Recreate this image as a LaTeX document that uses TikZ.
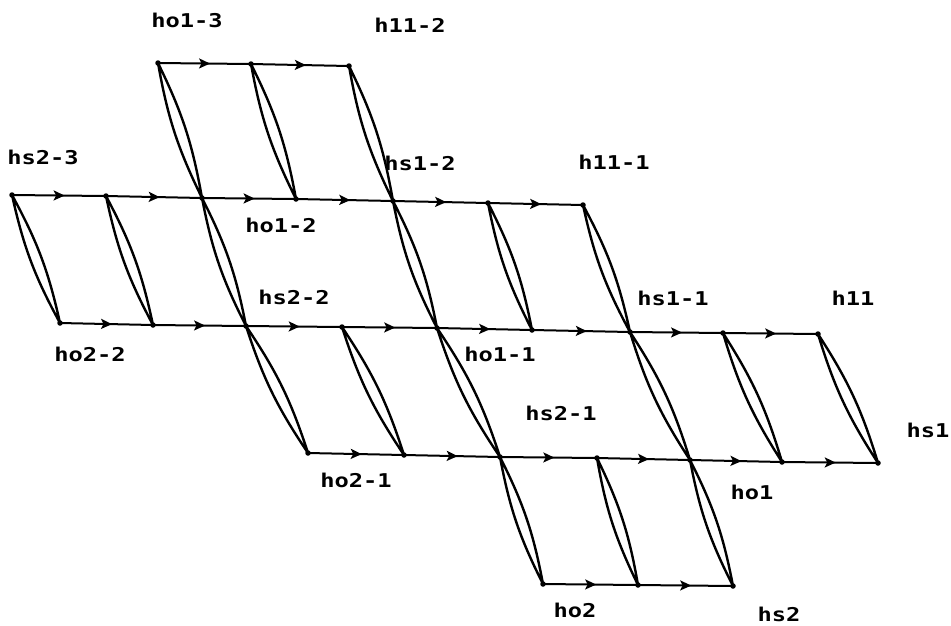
\documentclass[tikz,border=0pt]{standalone}
\usepackage{fontspec}
\newfontfamily\lblfont[FakeStretch=1.25]{DejaVu Sans Mono}
\usetikzlibrary{arrows.meta,decorations.markings}
\tikzset{
  pt/.style={circle,fill=black,inner sep=0pt,minimum size=5.5pt},
  lbl/.style={font=\lblfont\bfseries\fontsize{19}{21}\selectfont,inner sep=0pt},
  lens/.style={line width=2.4pt},
  flow/.style={line width=2pt,postaction={decorate},
    decoration={markings,mark=at position 0.56 with {\arrow{Stealth[length=11pt,width=10pt,inset=2.5pt]}}}}
}
\begin{document}
\begin{tikzpicture}[x=1pt,y=-1pt]
\useasboundingbox (0,0) rectangle (951,625);
% level 0
\node[pt] (a0) at (158,63) {};
\node[pt] (a1) at (251,64) {};
\node[pt] (a2) at (349,66) {};
% level 1
\node[pt] (b0) at (12,195) {};
\node[pt] (b1) at (106,196) {};
\node[pt] (b2) at (202,198) {};
\node[pt] (b3) at (296,199) {};
\node[pt] (b4) at (393,201) {};
\node[pt] (b5) at (488,203) {};
\node[pt] (b6) at (583,205) {};
% level 2
\node[pt] (c0) at (60,323) {};
\node[pt] (c1) at (153,325) {};
\node[pt] (c2) at (246,326) {};
\node[pt] (c3) at (342,327) {};
\node[pt] (c4) at (437,328) {};
\node[pt] (c5) at (532,330) {};
\node[pt] (c6) at (630,332) {};
\node[pt] (c7) at (723,333) {};
\node[pt] (c8) at (818,334) {};
% level 3
\node[pt] (d0) at (308,453) {};
\node[pt] (d1) at (404,455) {};
\node[pt] (d2) at (500,457) {};
\node[pt] (d3) at (597,458) {};
\node[pt] (d4) at (690,460) {};
\node[pt] (d5) at (782,462) {};
\node[pt] (d6) at (878,463) {};
% level 4
\node[pt] (e0) at (543,584) {};
\node[pt] (e1) at (638,585) {};
\node[pt] (e2) at (733,586) {};
% horizontal flows
\foreach \u/\v in {a0/a1,a1/a2,
  b0/b1,b1/b2,b2/b3,b3/b4,b4/b5,b5/b6,
  c0/c1,c1/c2,c2/c3,c3/c4,c4/c5,c5/c6,c6/c7,c7/c8,
  d0/d1,d1/d2,d2/d3,d3/d4,d4/d5,d5/d6,
  e0/e1,e1/e2}
  \draw[flow] (\u.center) -- (\v.center);
% lenses
\foreach \u/\v in {a0/b2,a1/b3,a2/b4,
  b0/c0,b1/c1,b2/c2,b4/c4,b5/c5,b6/c6,
  c2/d0,c3/d1,c4/d2,c6/d4,c7/d5,c8/d6,
  d2/e0,d3/e1,d4/e2}
  \draw[lens] (\u.center) to[bend left=8] (\v.center) (\u.center) to[bend right=8] (\v.center);
% labels
\node[lbl] (t1) at (187,20) {ho1-3};
\node[lbl] (t2) at (410,25) {h11-2};
\node[lbl] (t3) at (43,157) {hs2-3};
\node[lbl] (t4) at (420,163) {hs1-2};
\node[lbl] (t5) at (614,162) {h11-1};
\node[lbl] (t6) at (281,225) {ho1-2};
\node[lbl] (t7) at (294,297) {hs2-2};
\node[lbl] (t8) at (90,354) {ho2-2};
\node[lbl] (t9) at (673,298) {hs1-1};
\node[lbl] (t10) at (853,298) {h11};
\node[lbl] (t11) at (500,354) {ho1-1};
\node[lbl] (t12) at (561,413) {hs2-1};
\node[lbl] (t13) at (928,430) {hs1};
\node[lbl] (t14) at (356,480) {ho2-1};
\node[lbl] (t15) at (752,492) {ho1};
\node[lbl] (t16) at (575,610) {ho2};
\node[lbl] (t17) at (779,614) {hs2};
\end{tikzpicture}
\end{document}
